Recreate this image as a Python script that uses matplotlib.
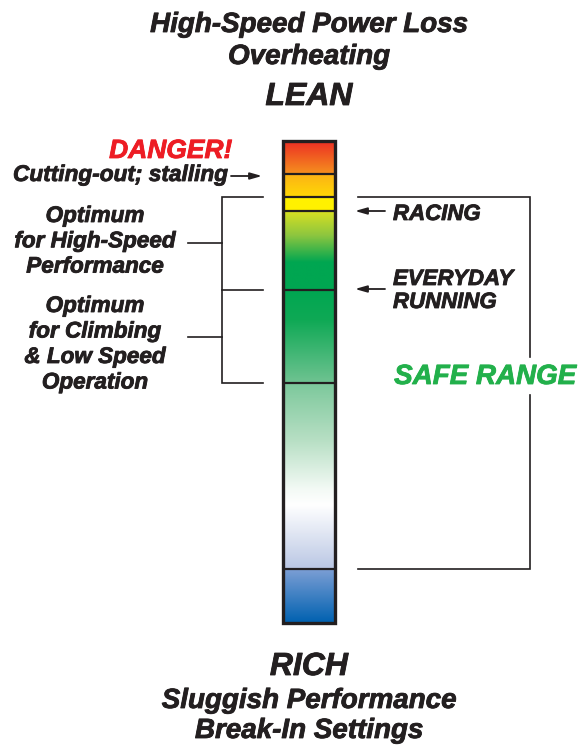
import numpy as np
import matplotlib
matplotlib.use("Agg")
import matplotlib.pyplot as plt
import matplotlib.patheffects as pe
from matplotlib.colors import to_rgb
from matplotlib.patches import Rectangle

# ---------------- data ----------------
# Mixture scale (drawing units, top = lean, bottom = rich)
bar_top, bar_bottom = 141, 623
band_edges = [174, 197, 211, 290, 383, 569]          # divider lines inside the bar
grad_pos = [141, 174, 174.01, 197, 197.01, 211, 211.01, 235, 262, 290, 320,
            383, 383.01, 440, 490, 505, 569, 569.01, 623]
grad_col = ['#ec2f24', '#f6921e', '#fcb315', '#ffd905', '#fff100', '#fff200',
            '#d8e022', '#8dc63f', '#00a651', '#00a651', '#0fa955',
            '#70c392', '#7cc89b', '#b7dfc4', '#f4faf6', '#ffffff', '#bac7e4',
            '#7d9fd5', '#0061b0']

top_lines = ["High-Speed Power Loss", "Overheating"]
lean_label = "LEAN"
rich_label = "RICH"
bottom_lines = ["Sluggish Performance", "Break-In Settings"]
danger_label = "DANGER!"
cutout_label = "Cutting-out; stalling"
left_group1 = ["Optimum", "for High-Speed", "Performance"]
left_group2 = ["Optimum", "for Climbing", "& Low Speed", "Operation"]
racing_label = "RACING"
everyday_lines = ["EVERYDAY", "RUNNING"]
safe_label = "SAFE RANGE"

# ---------------- drawing ----------------
INK = '#231f20'
RED = '#ed1c24'
GREEN = '#22b04b'


def font(color=INK):
    return dict(family='Liberation Sans', weight='bold', style='italic', color=color,
                path_effects=[pe.withStroke(linewidth=0.6, foreground=color)])


fig = plt.figure(figsize=(5.88, 7.48), dpi=100)
ax = fig.add_axes([0, 0, 1, 1])
ax.set_xlim(0, 588)
ax.set_ylim(748, 0)
ax.axis('off')

# gradient bar
rows = np.linspace(bar_top, bar_bottom, 600)
rgb = np.array([to_rgb(c) for c in grad_col])
img = np.stack([np.interp(rows, grad_pos, rgb[:, k]) for k in range(3)], axis=-1)
img = np.repeat(img[:, None, :], 4, axis=1)
bx0, bx1 = 283, 335
ax.imshow(img, extent=[bx0, bx1, bar_bottom, bar_top], aspect='auto',
          interpolation='bilinear', zorder=1)
for e in band_edges:
    ax.plot([bx0, bx1], [e, e], color=INK, lw=1.6, zorder=2, solid_capstyle='butt')
ax.add_patch(Rectangle((bx0, bar_top), bx1 - bx0, bar_bottom - bar_top,
                       fill=False, ec=INK, lw=2.4, zorder=3))

cx = (bx0 + bx1) / 2
# top / bottom texts
ax.text(cx, 32, top_lines[0], ha='center', va='baseline', fontsize=20, **font())
ax.text(cx, 64, top_lines[1], ha='center', va='baseline', fontsize=20, **font())
ax.text(cx, 105, lean_label, ha='center', va='baseline', fontsize=23, **font())
ax.text(cx, 675, rich_label, ha='center', va='baseline', fontsize=23, **font())
ax.text(cx, 708, bottom_lines[0], ha='center', va='baseline', fontsize=20, **font())
ax.text(cx, 738, bottom_lines[1], ha='center', va='baseline', fontsize=20, **font())

# danger + cutting-out
ax.text(232, 158, danger_label, ha='right', va='baseline', fontsize=19, **font(RED))
ax.text(228, 181, cutout_label, ha='right', va='baseline', fontsize=16.3, **font())
arrow_kw = dict(arrowstyle='-|>,head_length=0.7,head_width=0.2', color=INK, lw=1.3,
                shrinkA=0, shrinkB=0)
ax.annotate('', xy=(262, band_edges[0] + 2), xytext=(231, band_edges[0] + 2),
            arrowprops=arrow_kw)

# left brackets
bl = 222
ax.plot([263, bl, bl, 263], [band_edges[1], band_edges[1], band_edges[4], band_edges[4]],
        color=INK, lw=1.2, solid_joinstyle='miter')
ax.plot([bl, 263], [band_edges[3], band_edges[3]], color=INK, lw=1.2)
mid1 = (band_edges[1] + band_edges[3]) / 2 - 0.5
mid2 = (band_edges[3] + band_edges[4]) / 2
ax.plot([188, bl], [mid1, mid1], color=INK, lw=1.2)
ax.plot([188, bl], [mid2, mid2], color=INK, lw=1.2)

lx = 95
for i, s in enumerate(left_group1):
    ax.text(lx, 222 + 25.3 * i, s, ha='center', va='baseline', fontsize=16.2, **font())
for i, s in enumerate(left_group2):
    ax.text(lx, 312 + 25.5 * i, s, ha='center', va='baseline', fontsize=16.2, **font())

# right side
ax.annotate('', xy=(355, band_edges[2]), xytext=(385, band_edges[2]), arrowprops=arrow_kw)
ax.annotate('', xy=(355, band_edges[3] - 1), xytext=(385, band_edges[3] - 1), arrowprops=arrow_kw)
ax.text(393, 220, racing_label, ha='left', va='baseline', fontsize=16, **font())
ax.text(393, 285, everyday_lines[0], ha='left', va='baseline', fontsize=16, **font())
ax.text(393, 308, everyday_lines[1], ha='left', va='baseline', fontsize=16, **font())

# safe range bracket
rx = 530
ax.plot([358, rx, rx], [band_edges[1], band_edges[1], 357], color=INK, lw=1.2,
        solid_joinstyle='miter')
ax.plot([rx, rx, 358], [395, band_edges[5], band_edges[5]], color=INK, lw=1.2,
        solid_joinstyle='miter')
ax.text(576, 384, safe_label, ha='right', va='baseline', fontsize=20, **font(GREEN))

fig.savefig('out.png', dpi=100)
